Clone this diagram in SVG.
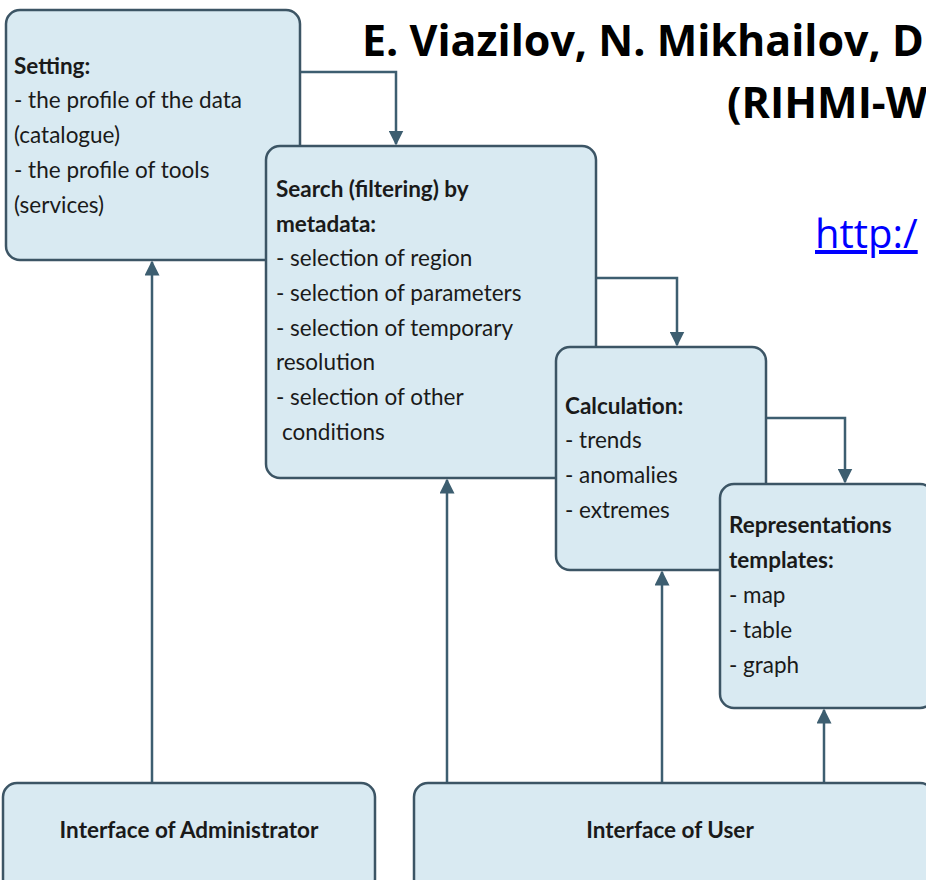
<svg xmlns="http://www.w3.org/2000/svg" width="926" height="880" viewBox="0 0 926 880">
<defs>
<style>
.box{fill:#d9eaf2;stroke:#3c5565;stroke-width:2.5}
.t{font-family:Lato,"Open Sans",sans-serif;font-size:22.5px;fill:#1a1a1a}
.b{font-weight:bold}
.c{fill:none;stroke:#3d5e70;stroke-width:2.5}
.title{font-family:"Open Sans","Noto Sans",sans-serif;font-weight:bold;font-size:43px;fill:#000}
</style>
<marker id="ah" viewBox="0 0 10 10" refX="9" refY="5" markerWidth="6" markerHeight="6" markerUnits="strokeWidth" orient="auto">
<path d="M0,0 L10,5 L0,10 z" fill="#3d5e70"/>
</marker>
</defs>
<rect width="926" height="880" fill="#ffffff"/>
<text class="title" x="362" y="56">E. Viazilov, N. Mikhailov, D</text>
<text class="title" x="727" y="118">(RIHMI-W</text>
<text x="815" y="248" font-family="'Open Sans','Noto Sans',sans-serif" font-size="40" fill="#0000ff" text-decoration="underline">http:/</text>
<g id="connectors">
<path class="c" d="M300,72 H396 V144" marker-end="url(#ah)"/>
<path class="c" d="M596,278 H677 V345" marker-end="url(#ah)"/>
<path class="c" d="M766,418 H845 V482" marker-end="url(#ah)"/>
<path class="c" d="M152,783 V262" marker-end="url(#ah)"/>
<path class="c" d="M447,783 V480" marker-end="url(#ah)"/>
<path class="c" d="M662,783 V572" marker-end="url(#ah)"/>
<path class="c" d="M824,783 V710" marker-end="url(#ah)"/>
</g>
<g id="setting">
<rect class="box" x="6" y="10" width="294" height="250" rx="14"/>
<text class="t b" x="14" y="74">Setting:</text>
<text class="t" x="14" y="108">- the profile of the data</text>
<text class="t" x="14" y="143">(catalogue)</text>
<text class="t" x="14" y="178">- the profile of tools</text>
<text class="t" x="14" y="213">(services)</text>
</g>
<g id="search">
<rect class="box" x="266" y="146" width="330" height="332" rx="14"/>
<text class="t b" x="276" y="197">Search (filtering) by</text>
<text class="t b" x="276" y="232">metadata:</text>
<text class="t" x="276" y="266">- selection of region</text>
<text class="t" x="276" y="301">- selection of parameters</text>
<text class="t" x="276" y="336">- selection of temporary</text>
<text class="t" x="276" y="370">resolution</text>
<text class="t" x="276" y="405">- selection of other</text>
<text class="t" x="282" y="440">conditions</text>
</g>
<g id="calculation">
<rect class="box" x="556" y="347" width="210" height="223" rx="14"/>
<text class="t b" x="565" y="414">Calculation:</text>
<text class="t" x="565" y="448">- trends</text>
<text class="t" x="565" y="483">- anomalies</text>
<text class="t" x="565" y="518">- extremes</text>
</g>
<g id="representations">
<rect class="box" x="720" y="484" width="214" height="224" rx="14"/>
<text class="t b" x="729" y="533">Representations</text>
<text class="t b" x="729" y="568">templates:</text>
<text class="t" x="729" y="603">- map</text>
<text class="t" x="729" y="638">- table</text>
<text class="t" x="729" y="673">- graph</text>
</g>
<g id="admin">
<rect class="box" x="3" y="783" width="372" height="110" rx="14"/>
<text class="t b" x="189" y="838" text-anchor="middle">Interface of Administrator</text>
</g>
<g id="user">
<rect class="box" x="414" y="783" width="520" height="110" rx="14"/>
<text class="t b" x="670" y="838" text-anchor="middle">Interface of User</text>
</g>
</svg>
